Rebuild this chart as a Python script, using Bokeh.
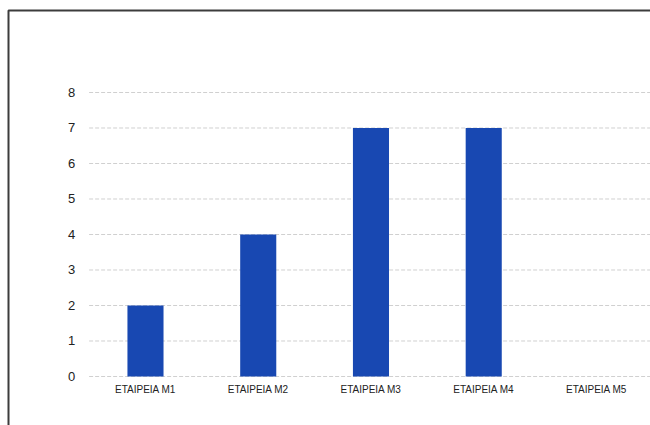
from bokeh.plotting import figure
from bokeh.models import ColumnDataSource, Range1d, FixedTicker, GlobalInlineStyleSheet
from bokeh.embed import file_html
from bokeh.resources import INLINE

categories = ["ΕΤΑΙΡΕΙΑ Μ1", "ΕΤΑΙΡΕΙΑ Μ2", "ΕΤΑΙΡΕΙΑ Μ3", "ΕΤΑΙΡΕΙΑ Μ4", "ΕΤΑΙΡΕΙΑ Μ5"]
values = [2, 4, 7, 7, 0]
y_ticks = [0, 1, 2, 3, 4, 5, 6, 7, 8]

pos = list(range(len(categories)))
src = ColumnDataSource(dict(x=pos, val=values))
grid_src = ColumnDataSource(dict(y=y_ticks,
                                 x0=[-0.5] * len(y_ticks),
                                 x1=[len(categories) - 0.5] * len(y_ticks)))

p = figure(x_range=Range1d(-1.215, 4.497), y_range=Range1d(-1.437, 10.31),
           width=652, height=427, output_backend="svg", toolbar_location=None,
           min_border_left=8, min_border_right=0, min_border_top=10, min_border_bottom=0)
p.stylesheets = [GlobalInlineStyleSheet(css="html, body { overflow: hidden; margin: 0; }")]

p.segment(x0="x0", x1="x1", y0="y", y1="y", source=grid_src,
          line_color="#d0d0d0", line_dash="4 2", line_width=1)
p.vbar(x="x", top="val", width=0.32, source=src, fill_color="#1848B2", line_color=None)

p.outline_line_color = "#3c3c3c"
p.outline_line_width = 2
p.background_fill_color = "white"
p.border_fill_color = "white"
p.xgrid.visible = False
p.ygrid.visible = False

p.xaxis.ticker = FixedTicker(ticks=pos)
p.xaxis.major_label_overrides = {i: c for i, c in zip(pos, categories)}
p.yaxis.ticker = FixedTicker(ticks=y_ticks)
p.xaxis.fixed_location = 0
p.yaxis.fixed_location = -0.5

for ax in (p.xaxis[0], p.yaxis[0]):
    ax.axis_line_color = None
    ax.major_tick_line_color = None
    ax.minor_tick_line_color = None
    ax.major_tick_out = 0
    ax.major_tick_in = 0
    ax.major_label_text_font = "Liberation Sans"
    ax.major_label_text_color = "#222222"

p.yaxis.major_label_text_font_size = "13px"
p.yaxis.major_label_standoff = 14
p.xaxis.major_label_text_font_size = "10px"
p.xaxis.major_label_standoff = 8

open("out.html", "w").write(file_html(p, INLINE))
